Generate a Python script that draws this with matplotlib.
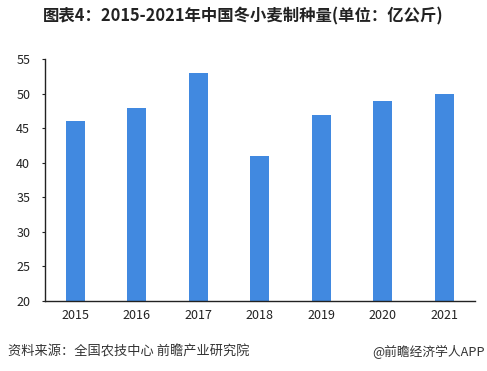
import matplotlib
matplotlib.use("Agg")
import matplotlib.pyplot as plt
import numpy as np

plt.rcParams["font.family"] = ["Noto Sans CJK SC", "DejaVu Sans"]

# winter wheat seed production, 2015-2021 (100 million kg)
years = ["2015", "2016", "2017", "2018", "2019", "2020", "2021"]
values = [46, 48, 53, 41, 47, 49, 50]
y_ticks = [20, 25, 30, 35, 40, 45, 50, 55]

title = "图表4：2015-2021年中国冬小麦制种量(单位：亿公斤)"
source = "资料来源：全国农技中心 前瞻产业研究院"
credit = "@前瞻经济学人APP"

BAR_COLOR = "#4189E0"

fig = plt.figure(figsize=(4.87, 3.71), dpi=100)
ax = fig.add_axes([0.092, 0.189, 0.883, 0.651])

x = np.arange(len(years))
ax.bar(x, values, width=0.31, color=BAR_COLOR, bottom=0)

ax.set_xlim(-0.5, len(years) - 0.5)
ax.set_ylim(20, 55)
ax.set_yticks(y_ticks)
ax.set_xticks(x)
ax.set_xticklabels(years)

for side in ["top", "right"]:
    ax.spines[side].set_visible(False)
for side in ["left", "bottom"]:
    ax.spines[side].set_color("#222222")
    ax.spines[side].set_linewidth(1.0)

ax.tick_params(axis="y", length=2.5, width=0.8, color="#222222",
               labelsize=9, labelcolor="#222222", pad=8)
ax.tick_params(axis="x", length=0, labelsize=9, labelcolor="#222222", pad=6)

fig.text(0.5, 0.955, title, ha="center", va="center",
         fontsize=11.8, fontweight="bold", color="#222222")
fig.text(0.016, 0.052, source, ha="left", va="center",
         fontsize=9.5, color="#333333")
fig.text(0.995, 0.052, credit, ha="right", va="center",
         fontsize=9.2, color="#333333")

fig.savefig("out.png", dpi=100)
plt.close(fig)
